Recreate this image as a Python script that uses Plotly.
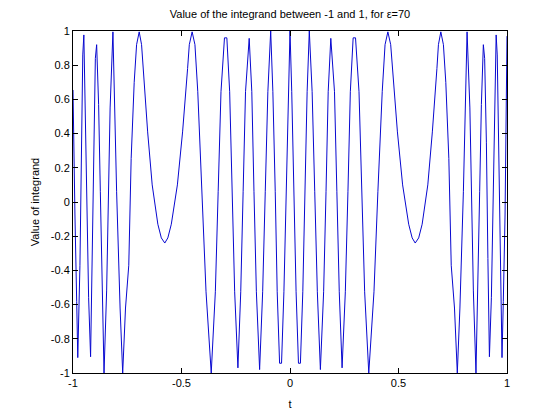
import plotly.graph_objects as go

# Values (extrema, crossings and intermediate points)
t_values = [
    -1.000, -0.997, -0.991, -0.983, -0.978, -0.968, -0.963, -0.955, -0.950, -0.945,
    -0.935, -0.928, -0.919, -0.912, -0.905, -0.897, -0.891, -0.882, -0.874, -0.866,
    -0.857, -0.845, -0.837, -0.829, -0.816, -0.806, -0.799, -0.783, -0.771, -0.758,
    -0.743, -0.732, -0.718, -0.707, -0.695, -0.684, -0.677, -0.656, -0.635, -0.609,
    -0.593, -0.577, -0.563, -0.547, -0.519, -0.495, -0.472, -0.464, -0.451, -0.438,
    -0.425, -0.405, -0.387, -0.363, -0.344, -0.331, -0.318, -0.302, -0.291, -0.278,
    -0.267, -0.255, -0.240, -0.227, -0.216, -0.205, -0.188, -0.176, -0.166, -0.155,
    -0.140, -0.126, -0.114, -0.102, -0.089, -0.079, -0.068, -0.059, -0.048, -0.039,
    -0.028, -0.018, -0.008, 0.000,
    0.008, 0.018, 0.028, 0.039, 0.048, 0.059, 0.068, 0.079, 0.089, 0.102,
    0.114, 0.126, 0.140, 0.155, 0.166, 0.176, 0.188, 0.205, 0.216, 0.227,
    0.240, 0.255, 0.267, 0.278, 0.291, 0.302, 0.318, 0.331, 0.344, 0.363,
    0.387, 0.405, 0.425, 0.438, 0.451, 0.464, 0.472, 0.495, 0.519, 0.547,
    0.563, 0.577, 0.593, 0.609, 0.635, 0.656, 0.677, 0.684, 0.695, 0.707,
    0.718, 0.732, 0.743, 0.758, 0.771, 0.783, 0.799, 0.806, 0.816, 0.829,
    0.837, 0.845, 0.857, 0.866, 0.874, 0.882, 0.891, 0.897, 0.905, 0.912,
    0.919, 0.928, 0.935, 0.945, 0.950, 0.955, 0.963, 0.968, 0.977, 0.983,
    0.991, 1.000,
]

integrand_values = [
    0.655, 0.343, -0.076, -0.583, -0.910, -0.370, 0.220, 0.860, 0.977, 0.590,
    -0.130, -0.560, -0.905, -0.330, 0.350, 0.840, 0.920, 0.570, 0.060, -0.520,
    -1.000, -0.520, -0.057, 0.550, 0.995, 0.390, 0.060, -0.620, -1.000, -0.620,
    -0.370, 0.255, 0.700, 0.920, 0.995, 0.920, 0.780, 0.410, 0.100, -0.130,
    -0.210, -0.240, -0.210, -0.130, 0.100, 0.410, 0.780, 0.920, 0.995, 0.920,
    0.645, 0.060, -0.525, -1.000, -0.525, 0.060, 0.645, 0.960, 0.960, 0.645,
    0.060, -0.525, -0.970, -0.525, 0.060, 0.645, 0.957, 0.645, 0.060, -0.525,
    -0.980, -0.525, 0.060, 0.645, 1.000, 0.645, 0.060, -0.525, -0.943, -0.943,
    -0.525, 0.060, 0.645, 1.000,
    0.645, 0.060, -0.525, -0.943, -0.943, -0.525, 0.060, 0.645, 1.000, 0.645,
    0.060, -0.525, -0.980, -0.525, 0.060, 0.645, 0.957, 0.645, 0.060, -0.525,
    -0.970, -0.525, 0.060, 0.645, 0.960, 0.960, 0.645, 0.060, -0.525, -1.000,
    -0.525, 0.060, 0.645, 0.920, 0.995, 0.920, 0.780, 0.410, 0.100, -0.130,
    -0.210, -0.240, -0.210, -0.130, 0.100, 0.410, 0.780, 0.920, 0.995, 0.920,
    0.700, 0.255, -0.370, -0.620, -1.000, -0.620, 0.060, 0.390, 0.995, 0.550,
    -0.057, -0.520, -1.000, -0.520, 0.060, 0.570, 0.920, 0.840, 0.350, -0.330,
    -0.905, -0.560, -0.130, 0.590, 0.977, 0.860, 0.220, -0.370, -0.910, -0.583,
    -0.076, 0.970,
]

x_ticks = [-1, -0.5, 0, 0.5, 1]
x_tick_labels = ["-1", "-0.5", "0", "0.5", "1"]
y_ticks = [-1, -0.8, -0.6, -0.4, -0.2, 0, 0.2, 0.4, 0.6, 0.8, 1]
y_tick_labels = ["-1", "-0.8", "-0.6", "-0.4", "-0.2", "0", "0.2", "0.4", "0.6", "0.8", "1"]

FONT = "Liberation Sans, Arial, sans-serif"

fig = go.Figure(
    go.Scatter(
        x=t_values,
        y=integrand_values,
        mode="lines",
        line=dict(color="#0808d0", width=1),
        hoverinfo="x+y",
    )
)

axis_common = dict(
    showline=True,
    linecolor="black",
    linewidth=1,
    mirror="allticks",
    ticks="inside",
    ticklen=5,
    tickcolor="black",
    showgrid=False,
    zeroline=False,
    tickfont=dict(family=FONT, size=11, color="black"),
)

fig.update_layout(
    width=560,
    height=420,
    margin=dict(l=73, r=53, t=31, b=47),
    paper_bgcolor="white",
    plot_bgcolor="white",
    showlegend=False,
    font=dict(family=FONT, size=11, color="black"),
    title=dict(
        text="Value of the integrand between -1 and 1, for \u03b5=70",
        x=0.5,
        xref="paper",
        xanchor="center",
        y=1 - 14 / 420,
        yref="container",
        yanchor="middle",
        font=dict(family=FONT, size=11, color="black"),
    ),
    xaxis=dict(
        range=[-1, 1],
        tickvals=x_ticks,
        ticktext=x_tick_labels,
        title=dict(text="t", standoff=12, font=dict(family=FONT, size=11)),
        **axis_common,
    ),
    yaxis=dict(
        range=[-1, 1],
        tickvals=y_ticks,
        ticktext=y_tick_labels,
        title=dict(text="Value of integrand", standoff=8, font=dict(family=FONT, size=11)),
        **axis_common,
    ),
)

fig.write_html(
    "out.html",
    config={"displayModeBar": False},
    post_script="document.body.style.margin='0';",
)
